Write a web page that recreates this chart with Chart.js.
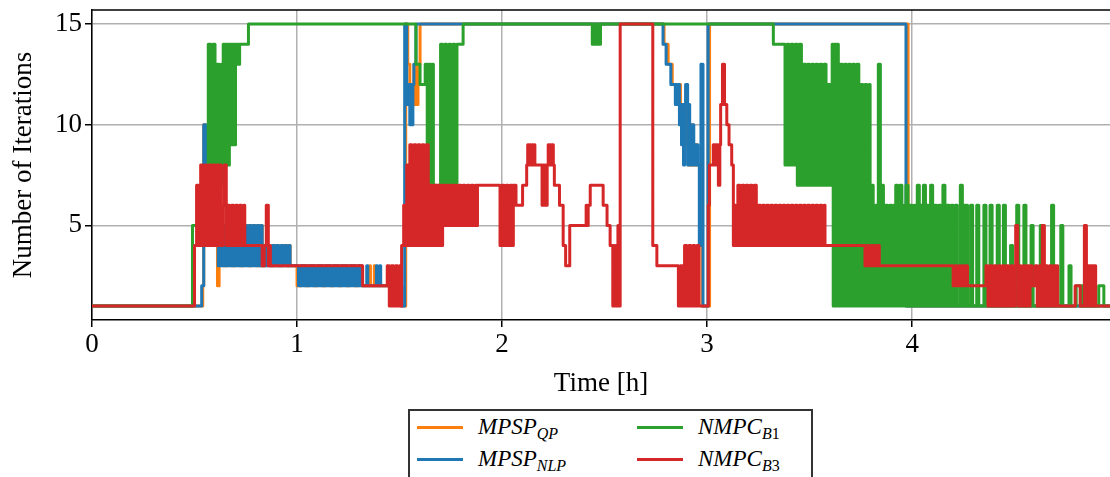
<!DOCTYPE html>
<html>
<head>
<meta charset="utf-8">
<script src="https://cdn.jsdelivr.net/npm/chart.js@4.4.1/dist/chart.umd.min.js"></script>
<style>
  html, body { margin: 0; padding: 0; background: #fff; }
  #wrap { position: relative; width: 1110px; height: 477px; overflow: hidden; }
  #legend {
    position: absolute; left: 408px; top: 409px; width: 405px; height: 90px;
    border: 2px solid #333; background: #fff; box-sizing: border-box;
    font-family: 'Liberation Serif', 'DejaVu Serif', serif; font-style: italic; font-size: 23px; color: #000;
  }
  .item { position: absolute; height: 28px; line-height: 28px; white-space: nowrap; }
  .swatch { position: absolute; height: 3px; width: 46px; }
  .item sub { font-size: 16px; line-height: 0; vertical-align: -5px; }
</style>
</head>
<body>
<div id="wrap">
  <canvas id="iterChart" width="1110" height="400"></canvas>
  <div id="legend"></div>
</div>
<script>
// [time in h, iterations]; each value holds until the next time stamp
const mpspQp = [
  [0,1],[0.54,2],[0.545,10],[0.555,6],[0.612,2],[0.62,5],[0.64,3],[0.66,5],[0.68,3],[0.70,5],[0.72,3],[0.74,5],
  [0.76,3],[0.78,5],[0.80,3],[0.82,5],[0.83,3],[0.85,4],[0.87,3],[0.89,4],[0.91,3],[0.93,4],[0.95,3],[0.96,4],
  [0.966,3],[1.0,2],[1.02,3],[1.04,2],[1.06,3],[1.08,2],[1.10,3],[1.12,2],[1.14,3],[1.16,2],[1.18,3],[1.20,2],
  [1.22,3],[1.24,2],[1.26,3],[1.28,2],[1.30,3],[1.316,2],[1.353,3],[1.358,2],[1.377,3],[1.382,2],[1.51,1],
  [1.53,15],[1.54,13],[1.55,12],[1.56,11],[1.57,13],[1.58,11],[1.59,13],[1.60,15],
  [2.79,14],[2.81,13],[2.83,12],[2.85,11],[2.86,12],[2.87,10],[2.88,11],[2.89,9],[2.90,11],[2.91,8],[2.92,10],
  [2.93,8],[2.94,9],[2.95,8],[2.965,4],[2.975,1],[3.012,15],[3.98,1],[4.97,1]
];

const mpspNlp = [
  [0,1],[0.535,2],[0.545,10],[0.555,6],
  [0.616,3],[0.625,5],[0.635,3],[0.645,5],[0.655,3],[0.665,5],[0.675,3],[0.685,5],[0.695,3],[0.705,5],[0.715,3],
  [0.725,5],[0.735,3],[0.745,5],[0.755,3],[0.765,5],[0.775,3],[0.785,5],[0.795,3],[0.805,5],[0.815,3],[0.825,5],
  [0.83,3],[0.84,4],[0.85,3],[0.86,4],[0.87,3],[0.88,4],[0.89,3],[0.90,4],[0.91,3],[0.92,4],[0.93,3],[0.94,4],
  [0.95,3],[0.96,4],[0.966,3],
  [1.007,2],[1.017,3],[1.027,2],[1.037,3],[1.047,2],[1.057,3],[1.067,2],[1.077,3],[1.087,2],[1.097,3],[1.107,2],
  [1.117,3],[1.127,2],[1.137,3],[1.147,2],[1.157,3],[1.167,2],[1.177,3],[1.187,2],[1.197,3],[1.207,2],[1.217,3],
  [1.227,2],[1.237,3],[1.247,2],[1.257,3],[1.267,2],[1.277,3],[1.287,2],[1.297,3],[1.307,2],[1.312,3],[1.316,2],
  [1.34,3],[1.345,2],[1.387,3],[1.392,2],[1.403,3],[1.408,2],
  [1.51,1],[1.525,15],[1.535,11],[1.545,12],[1.55,10],[1.555,12],[1.56,10],[1.565,12],[1.57,13],[1.58,15],
  [2.785,14],[2.80,13],[2.823,12],[2.845,11],[2.85,12],[2.855,11],[2.86,12],[2.865,10],[2.87,11],[2.875,9],
  [2.88,11],[2.885,8],[2.89,11],[2.895,12],[2.905,8],[2.91,11],[2.915,8],[2.92,10],[2.925,8],[2.93,10],[2.935,8],
  [2.94,9],[2.945,8],[2.95,9],[2.955,8],[2.962,4],[2.97,13],[2.98,1],[3.005,15],[3.97,1],[4.97,1]
];

const nmpcB1 = [
  [0,1],[0.49,5],
  [0.567,14],[0.58,7],[0.59,14],[0.60,7],[0.61,13],[0.62,7],[0.63,13],[0.635,7],
  [0.64,14],[0.645,8],[0.65,14],[0.655,8],[0.66,14],[0.665,8],[0.67,14],[0.675,9],[0.68,14],[0.685,9],[0.69,14],
  [0.695,9],[0.70,14],[0.705,13],[0.71,14],[0.715,13],[0.72,14],[0.763,15],
  [1.58,13],[1.60,12],[1.625,13],[1.635,7],[1.64,13],[1.645,7],[1.65,13],[1.655,7],[1.66,13],[1.665,7],
  [1.70,14],[1.71,7],[1.72,14],[1.73,7],[1.74,14],[1.75,7],[1.76,14],[1.77,7],[1.78,14],[1.81,15],
  [2.44,14],[2.45,15],[2.46,14],[2.47,15],[2.475,14],[2.48,15],
  [3.323,14],
  [3.38,8],[3.39,14],[3.40,8],[3.41,14],[3.42,8],[3.43,14],[3.44,7],[3.45,14],[3.46,7],
  [3.47,13],[3.48,7],[3.49,13],[3.50,7],[3.51,13],[3.52,7],[3.53,13],[3.54,7],[3.55,13],[3.56,7],[3.57,13],
  [3.58,7],[3.59,12],[3.60,7],
  [3.61,14],[3.615,1],[3.62,14],[3.63,1],[3.635,14],[3.64,1],
  [3.65,13],[3.66,1],[3.67,13],[3.68,1],[3.69,13],[3.70,1],[3.71,13],[3.72,1],[3.73,13],[3.74,1],
  [3.75,12],[3.76,1],[3.77,12],[3.78,1],[3.79,12],[3.795,1],
  [3.80,7],[3.81,1],[3.82,6],[3.83,1],[3.835,13],[3.845,1],[3.85,7],[3.86,1],[3.87,6],[3.88,1],[3.89,6],[3.90,1],
  [3.91,6],[3.915,1],[3.92,7],[3.93,1],[3.94,7],[3.95,1],[3.96,6],[3.965,1],[3.97,7],[3.98,1],[3.99,6],[4.00,1],
  [4.01,6],[4.02,1],[4.025,7],[4.035,1],[4.04,6],[4.05,1],[4.055,7],[4.065,1],[4.07,6],[4.08,1],[4.09,7],[4.10,1],
  [4.11,6],[4.12,1],[4.13,6],[4.14,1],[4.15,7],[4.16,1],[4.17,6],[4.18,1],[4.19,6],[4.20,1],[4.21,6],[4.22,1],
  [4.235,7],[4.245,1],[4.25,6],[4.26,1],[4.265,6],[4.27,1],
  [4.285,6],[4.295,1],[4.315,6],[4.325,1],[4.35,6],[4.36,1],[4.38,6],[4.39,1],[4.415,6],[4.425,1],[4.445,6],
  [4.455,1],[4.48,4],[4.49,1],[4.51,6],[4.52,1],[4.545,6],[4.555,1],[4.58,5],[4.59,1],[4.625,5],[4.635,1],
  [4.68,6],[4.69,1],[4.725,5],[4.735,1],[4.765,3],[4.775,1],[4.80,2],[4.82,1],[4.825,2],[4.835,1],[4.91,2],
  [4.935,1],[4.97,1]
];

const nmpcB3 = [
  [0,1],[0.50,4],[0.51,7],[0.52,4],
  [0.53,8],[0.54,4],[0.55,8],[0.56,4],[0.57,8],[0.58,4],[0.59,8],[0.60,4],[0.61,8],[0.62,4],[0.625,8],[0.63,4],
  [0.64,6],[0.645,8],[0.655,4],[0.66,6],[0.67,4],[0.68,6],[0.69,4],[0.70,6],[0.71,4],[0.72,6],[0.73,4],[0.74,6],
  [0.745,4],[0.83,3],[0.84,4],[0.85,6],[0.86,3],[0.865,4],[0.87,3],
  [1.32,2],
  [1.44,3],[1.45,1],[1.46,3],[1.47,1],[1.48,3],[1.49,1],[1.50,3],[1.505,1],[1.51,4],
  [1.52,6],[1.53,4],[1.535,8],[1.545,4],
  [1.55,9],[1.56,4],[1.57,9],[1.58,4],[1.59,9],[1.60,4],[1.61,9],[1.62,4],[1.63,9],[1.64,4],
  [1.65,7],[1.66,4],[1.67,7],[1.68,4],[1.69,7],[1.70,4],[1.71,7],
  [1.72,5],[1.73,7],[1.74,5],[1.75,7],[1.76,5],[1.77,7],[1.78,5],[1.79,7],[1.80,5],[1.81,7],[1.82,5],[1.83,7],
  [1.84,5],[1.85,7],[1.86,5],[1.87,7],[1.875,5],[1.88,7],
  [1.99,4],[2.00,7],[2.01,4],[2.02,7],[2.03,4],[2.04,7],[2.05,4],[2.055,7],
  [2.068,6],[2.10,7],[2.12,8],[2.125,9],[2.13,8],[2.135,9],[2.14,8],[2.145,9],[2.15,8],[2.155,9],[2.16,8],
  [2.195,6],[2.20,8],[2.205,6],[2.21,8],[2.215,6],[2.22,8],[2.225,9],[2.23,8],[2.235,9],[2.24,8],[2.245,9],[2.25,8],
  [2.255,7],[2.28,6],[2.298,4],[2.31,3],[2.33,5],
  [2.41,6],[2.415,5],[2.42,6],[2.43,7],
  [2.493,6],[2.512,5],[2.527,4],
  [2.54,1],[2.545,4],[2.55,1],[2.555,4],[2.56,1],[2.565,5],[2.57,1],[2.576,15],
  [2.735,4],[2.755,3],
  [2.86,1],[2.87,3],[2.88,1],[2.89,4],[2.90,1],[2.91,4],[2.92,1],[2.93,4],[2.94,1],[2.95,4],[2.96,1],
  [3.006,6],[3.011,8],[3.03,9],[3.035,8],[3.04,9],[3.045,8],[3.05,9],[3.055,7],[3.062,9],[3.066,11],[3.075,13],
  [3.085,11],[3.096,10],[3.107,9],[3.12,8],
  [3.128,4],[3.13,6],[3.14,4],[3.15,7],[3.16,4],[3.17,7],[3.18,4],[3.19,7],[3.20,4],[3.21,7],[3.22,4],[3.23,7],
  [3.24,4],[3.25,6],[3.26,4],[3.27,6],[3.28,4],[3.29,6],[3.30,4],[3.31,6],[3.32,4],[3.33,6],[3.34,4],[3.35,6],
  [3.36,4],[3.37,6],[3.38,4],[3.39,6],[3.40,4],[3.41,6],[3.42,4],[3.43,6],[3.44,4],[3.45,6],[3.46,4],[3.47,6],
  [3.48,4],[3.49,6],[3.50,4],[3.51,6],[3.52,4],[3.53,6],[3.54,4],[3.55,6],[3.56,4],[3.57,6],[3.575,4],
  [3.77,3],[3.78,4],[3.79,3],[3.80,4],[3.81,3],[3.82,4],[3.83,3],[3.835,4],[3.84,3],
  [4.20,2],[4.21,3],[4.22,2],[4.23,3],[4.24,2],[4.25,3],[4.26,2],[4.265,3],[4.27,2],
  [4.36,3],[4.37,1],[4.38,3],[4.39,1],[4.40,3],[4.41,1],[4.42,3],[4.43,1],[4.44,3],[4.45,1],[4.46,3],[4.47,1],
  [4.48,3],[4.49,1],[4.50,3],[4.505,5],[4.515,1],[4.52,3],[4.53,1],[4.54,3],[4.55,1],[4.56,3],[4.57,1],[4.575,3],
  [4.585,2],[4.60,3],[4.61,1],[4.62,3],[4.63,1],[4.635,5],[4.645,1],[4.65,3],[4.66,1],[4.67,3],[4.68,1],[4.69,3],
  [4.70,1],[4.705,3],[4.71,1],[4.795,2],[4.82,1],[4.84,5],[4.85,1],[4.855,3],[4.865,1],[4.87,3],[4.88,1],
  [4.885,3],[4.895,1],[4.97,1]
];

const timeTicks = [0, 1, 2, 3, 4];
const iterTicks = [5, 10, 15];

const legendMain = ['MPSP', 'MPSP', 'NMPC', 'NMPC'];
const legendSub = ['QP', 'NLP', 'B1', 'B3'];
const colors = ['#ff7f0e', '#1f77b4', '#2ca02c', '#d62728'];
const series = [mpspQp, mpspNlp, nmpcB1, nmpcB3];

const serif = "'Liberation Serif', 'DejaVu Serif', serif";

// frame line on top of the plot (matplotlib style spine)
const topSpine = {
    id: 'topSpine',
    afterDatasetsDraw(chart) {
        const {ctx, chartArea} = chart;
        ctx.save();
        ctx.strokeStyle = '#000';
        ctx.lineWidth = 1.5;
        ctx.beginPath();
        ctx.moveTo(chartArea.left, chartArea.top);
        ctx.lineTo(chartArea.right, chartArea.top);
        ctx.stroke();
        ctx.restore();
    }
};

window.onload = function() {
    const ctx = document.getElementById('iterChart').getContext('2d');

    const datasets = series.map((s, i) => ({
        label: legendMain[i] + '_' + legendSub[i],
        data: s.map(p => ({x: p[0], y: p[1]})),
        borderColor: colors[i],
        backgroundColor: colors[i],
        borderWidth: 3,
        stepped: true,
        pointRadius: 0,
        fill: false,
        borderCapStyle: 'round',
        borderJoinStyle: 'round',
        order: 4 - i
    }));

    new Chart(ctx, {
        type: 'line',
        data: { datasets: datasets },
        options: {
            responsive: false,
            animation: false,
            layout: { padding: { top: 10, left: 0, right: 0, bottom: 0 } },
            plugins: {
                legend: { display: false },
                tooltip: { enabled: false }
            },
            scales: {
                x: {
                    type: 'linear',
                    min: 0,
                    max: 4.965,
                    afterBuildTicks: s => { s.ticks = timeTicks.map(v => ({value: v})); },
                    afterFit: s => { s.height = 80; },
                    ticks: {
                        color: '#000',
                        font: { family: serif, size: 27 },
                        padding: 2,
                        maxRotation: 0,
                        callback: v => String(v)
                    },
                    grid: { color: '#b0b0b0', lineWidth: 1.5, tickColor: '#000', tickLength: 7, tickWidth: 1.5 },
                    border: { color: '#000', width: 1.5 },
                    title: {
                        display: true,
                        text: 'Time [h]',
                        color: '#000',
                        font: { family: serif, size: 27 },
                        padding: { top: 0, bottom: 0 }
                    }
                },
                y: {
                    min: 0.3,
                    max: 15.7,
                    afterBuildTicks: s => { s.ticks = iterTicks.map(v => ({value: v})); },
                    afterFit: s => { s.width = 92; s.paddingTop = 0; s.paddingBottom = 0; },
                    ticks: {
                        color: '#000',
                        font: { family: serif, size: 27, lineHeight: 0.6 },
                        padding: 3,
                        callback: v => String(v)
                    },
                    grid: { color: '#b0b0b0', lineWidth: 1.5, tickColor: '#000', tickLength: 7, tickWidth: 1.5 },
                    border: { color: '#000', width: 1.5 },
                    title: {
                        display: true,
                        text: 'Number of Iterations',
                        color: '#000',
                        font: { family: serif, size: 27 },
                        padding: { top: 8, bottom: 0 }
                    }
                }
            }
        },
        plugins: [topSpine]
    });

    // legend: two columns, filled column by column like matplotlib
    const legend = document.getElementById('legend');
    const colX = [7, 227];
    const rowY = [16, 48];
    series.forEach((s, i) => {
        const col = Math.floor(i / 2), row = i % 2;
        const sw = document.createElement('div');
        sw.className = 'swatch';
        sw.style.background = colors[i];
        sw.style.left = colX[col] + 'px';
        sw.style.top = (rowY[row] - 1.5) + 'px';
        legend.appendChild(sw);
        const it = document.createElement('div');
        it.className = 'item';
        it.style.left = (colX[col] + 61) + 'px';
        it.style.top = (rowY[row] - 14) + 'px';
        const sub = legendSub[i].replace(/(\d+)/g, '<span style="font-style:normal">$1</span>');
        it.innerHTML = legendMain[i] + '<sub>' + sub + '</sub>';
        legend.appendChild(it);
    });
};
</script>
</body>
</html>
